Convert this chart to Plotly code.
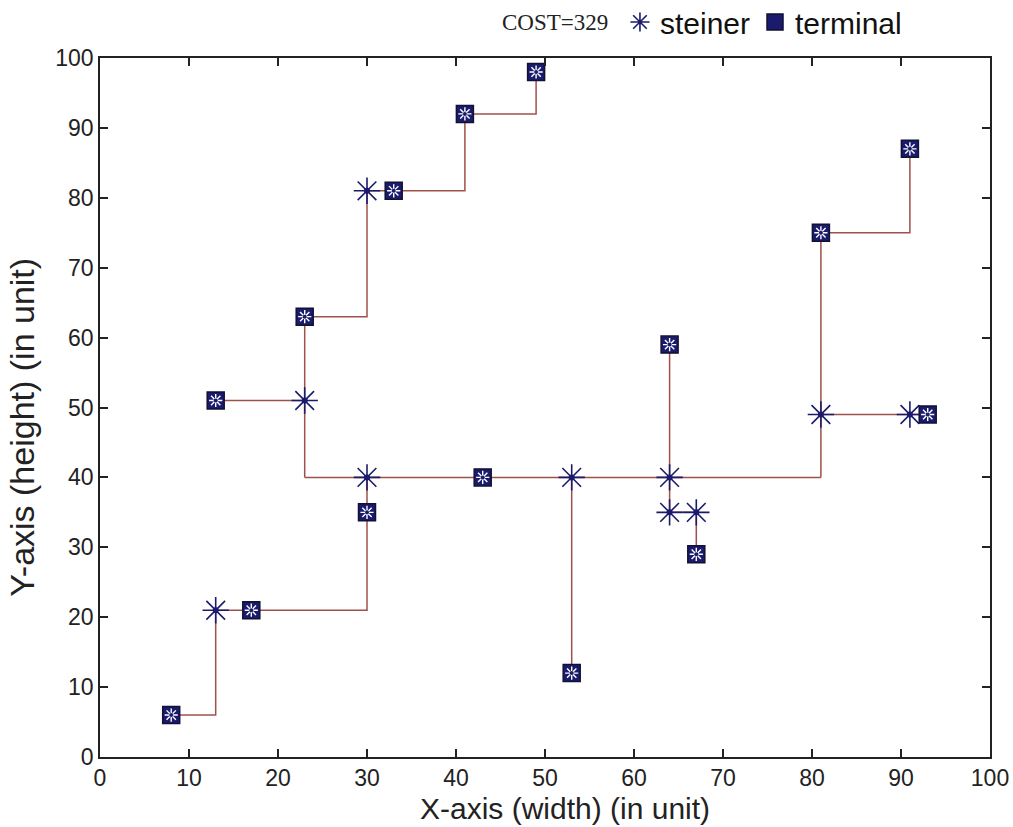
import plotly.graph_objects as go

# Terminal nodes
term_x = [8, 17, 30, 43, 53, 67, 64, 93, 81, 91, 13, 23, 33, 41, 49]
term_y = [6, 21, 35, 40, 12, 29, 59, 49, 75, 87, 51, 63, 81, 92, 98]

# Steiner points
stein_x = [13, 30, 23, 30, 53, 64, 64, 67, 81, 91]
stein_y = [21, 40, 51, 81, 40, 40, 35, 35, 49, 49]

# Rectilinear wire paths (polylines, None separates paths)
wire_x = [8, 13, 13, None,
          13, 30, 30, None,
          23, 81, None,
          13, 23, None,
          23, 23, 30, 30, 41, 41, 49, 49, None,
          53, 53, None,
          64, 64, None,
          64, 64, 67, 67, None,
          81, 81, 91, 91, None,
          81, 93]
wire_y = [6, 6, 21, None,
          21, 21, 40, None,
          40, 40, None,
          51, 51, None,
          40, 63, 63, 81, 81, 92, 92, 98, None,
          40, 12, None,
          40, 59, None,
          40, 35, 35, 29, None,
          40, 75, 75, 87, None,
          49, 49]

cost_label = "COST=329"
x_title = "X-axis (width) (in unit)"
y_title = "Y-axis (height) (in unit)"
x_ticks = list(range(0, 101, 10))
y_ticks = list(range(0, 101, 10))

NAVY = "#1b1b6e"
WIRE = "#a0504c"
TXT = "#222222"
SANS = "Liberation Sans, Arial"

fig = go.Figure()
fig.add_trace(go.Scatter(x=wire_x, y=wire_y, mode="lines",
                         line=dict(color=WIRE, width=1.5),
                         showlegend=False, hoverinfo="skip"))
# steiner
fig.add_trace(go.Scatter(x=stein_x, y=stein_y, mode="markers", name="steiner",
                         marker=dict(symbol="asterisk-open", size=22, color=NAVY,
                                     line=dict(color=NAVY, width=1.6))))
fig.add_trace(go.Scatter(x=stein_x, y=stein_y, mode="markers", showlegend=False,
                         marker=dict(symbol="circle", size=6, color=NAVY),
                         hoverinfo="skip"))
# terminal
fig.add_trace(go.Scatter(x=term_x, y=term_y, mode="markers", name="terminal",
                         marker=dict(symbol="square", size=17, color=NAVY,
                                     line=dict(color="#111133", width=1.5))))
fig.add_trace(go.Scatter(x=term_x, y=term_y, mode="markers", showlegend=False,
                         marker=dict(symbol="asterisk-open", size=11, color="white",
                                     line=dict(color="white", width=1.4)),
                         hoverinfo="skip"))
fig.add_trace(go.Scatter(x=term_x, y=term_y, mode="markers", showlegend=False,
                         marker=dict(symbol="circle", size=4, color=NAVY),
                         hoverinfo="skip"))

axis_common = dict(showgrid=False, zeroline=False, showline=True, automargin=False,
                   linecolor=TXT, linewidth=1.5, mirror="ticks",
                   ticks="inside", ticklen=8, tickwidth=1.5, tickcolor=TXT,
                   tickfont=dict(family=SANS, size=23, color=TXT))

fig.update_xaxes(range=[0, 100], tickvals=x_ticks, **axis_common)
fig.update_yaxes(range=[0, 100], tickvals=y_ticks, **axis_common)

fig.add_annotation(text=x_title, xref="paper", yref="paper",
                   x=0.5225, y=-0.0735, xanchor="center", yanchor="middle",
                   showarrow=False, font=dict(family=SANS, size=30, color=TXT))
fig.add_annotation(text=y_title, xref="paper", yref="paper", textangle=-90,
                   x=-0.088, y=0.472, xanchor="center", yanchor="middle",
                   showarrow=False, font=dict(family=SANS, size=34, color=TXT))
fig.add_annotation(text=cost_label, xref="paper", yref="paper",
                   x=0.449, y=1.0515, xanchor="left", yanchor="middle",
                   showarrow=False,
                   font=dict(family="Liberation Serif, Times New Roman", size=23, color=TXT))

fig.update_layout(
    width=1013, height=827,
    margin=dict(l=100, r=23, t=58, b=70),
    plot_bgcolor="white", paper_bgcolor="white",
    legend=dict(orientation="h", xref="container", yref="container",
                x=0.612, y=0.9734, xanchor="left", yanchor="middle",
                font=dict(family=SANS, size=30, color="#111111"),
                itemwidth=30, bgcolor="rgba(0,0,0,0)", tracegroupgap=0),
)

fig.write_html("out.html", config={"displayModeBar": False},
               post_script="document.body.style.margin='0px';")
